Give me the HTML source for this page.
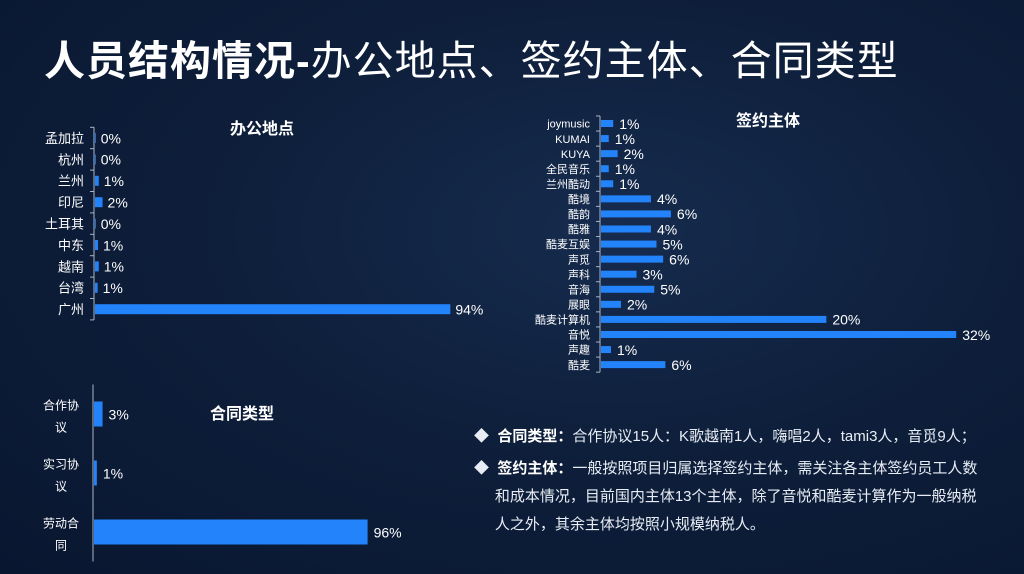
<!DOCTYPE html>
<html><head><meta charset="utf-8">
<style>
html,body{margin:0;padding:0}
body{width:1024px;height:574px;overflow:hidden;position:relative;font-family:"Liberation Sans","Noto Sans CJK SC",sans-serif;color:#fff;
background:radial-gradient(ellipse at 60% 40%,#162b4e 0%,#0e1f3b 45%,#091630 100%);}
.title{position:absolute;left:44px;top:27px;font-size:41px;font-weight:bold;letter-spacing:1px;white-space:nowrap}
.title span{font-weight:normal}
svg{position:absolute;left:0;top:0}
.desc{position:absolute;left:474px;font-size:15px;line-height:28px;color:#e8edf5;white-space:nowrap}
.desc b{color:#fff}
</style></head><body>
<div class="title">人员结构情况-<span>办公地点、签约主体、合同类型</span></div>
<svg id="chart" width="1024" height="574"></svg>
<div class="desc" style="top:423px">◆&nbsp;&nbsp;<b>合同类型：</b>合作协议15人：K歌越南1人，嗨唱2人，tami3人，音觅9人；</div>
<div class="desc" style="top:455px">◆&nbsp;&nbsp;<b>签约主体：</b>一般按照项目归属选择签约主体，需关注各主体签约员工人数<br>&nbsp;&nbsp;&nbsp;&nbsp;&nbsp;和成本情况，目前国内主体13个主体，除了音悦和酷麦计算作为一般纳税<br>&nbsp;&nbsp;&nbsp;&nbsp;&nbsp;人之外，其余主体均按照小规模纳税人。</div>
<script>
const officeCats=["孟加拉","杭州","兰州","印尼","土耳其","中东","越南","台湾","广州"];
const officeVals=[0.2,0.2,1,2,0.2,0.8,1,0.7,94];
const officeLabels=["0%","0%","1%","2%","0%","1%","1%","1%","94%"];
const entityCats=["joymusic","KUMAI","KUYA","全民音乐","兰州酷动","酷境","酷韵","酷雅","酷麦互娱","声觅","声科","音海","展眼","酷麦计算机","音悦","声趣","酷麦"];
const entityVals=[1.1,0.7,1.5,0.7,1.1,4.5,6.3,4.5,5.0,5.6,3.2,4.8,1.8,20.3,32,0.9,5.8];
const entityLabels=["1%","1%","2%","1%","1%","4%","6%","4%","5%","6%","3%","5%","2%","20%","32%","1%","6%"];
const contractCats=[["合作协","议"],["实习协","议"],["劳动合","同"]];
const contractVals=[3,1,96];
const contractLabels=["3%","1%","96%"];
const svg=document.getElementById('chart');
const NS='http://www.w3.org/2000/svg';
function mk(tag,attrs,txt){const e=document.createElementNS(NS,tag);for(const k in attrs)e.setAttribute(k,attrs[k]);if(txt!==undefined)e.textContent=txt;svg.appendChild(e);return e;}
function chart(o){
  const x=v=>o.x0+v*o.scale;
  const y=i=>o.y0+i*o.step;
  let t=mk('text',{x:o.tx,y:o.ty,fill:'#fff','font-size':16,'font-weight':'bold','text-anchor':'middle'},o.title);
  
  let ax=mk('line',{x1:o.x0,x2:o.x0,y1:y(0)-o.step/2,y2:y(o.cats.length-1)+o.step/2,stroke:'#aab4c4','stroke-width':1});
  
  o.cats.forEach((c,i)=>{
    if(o.ticks){mk('line',{x1:o.x0-4,x2:o.x0,y1:y(i)-o.step/2,y2:y(i)-o.step/2,stroke:'#aab4c4'});}
    const w=Math.max(o.vals[i]*o.scale,0);
    let r=mk('rect',{x:o.x0+1,y:y(i)-o.bh/2,width:w,height:o.bh,fill:'#2283fa'});
    
    let lb=mk('text',{x:x(o.vals[i])+o.gap,y:y(i)+o.fs*0.38,fill:'#fff','font-size':o.fs},o.labels[i]);
    
    if(Array.isArray(c)){
      c.forEach((s,k)=>{let ct=mk('text',{x:o.x0-32,y:y(i)-10+k*22+o.fs*0.38,fill:'#fff','font-size':12,'text-anchor':'middle'},s);
      });
    }else{
      let ct=mk('text',{x:o.x0-o.cgap,y:y(i)+o.cfs*0.38,fill:'#fff','font-size':o.cfs,'text-anchor':'end'},c);
      
    }
  });
  if(o.ticks)mk('line',{x1:o.x0-4,x2:o.x0,y1:y(o.cats.length-1)+o.step/2,y2:y(o.cats.length-1)+o.step/2,stroke:'#aab4c4'});
}
chart({name:'office',cats:officeCats,vals:officeVals,labels:officeLabels,x0:94,scale:3.78,y0:138,step:21.4,bh:10,fs:14,cfs:13,cgap:10,gap:6,ticks:true,title:'办公地点',tx:262,ty:134});
chart({name:'entity',cats:entityCats,vals:entityVals,labels:entityLabels,x0:600,scale:11.1,y0:123.5,step:15.07,bh:7,fs:14,cfs:11,cgap:10,gap:7,ticks:true,title:'签约主体',tx:768,ty:126});
chart({name:'contract',cats:contractCats,vals:contractVals,labels:contractLabels,x0:93,scale:2.85,y0:414,step:59,bh:25,fs:14,cfs:12,cgap:8,gap:7,ticks:false,title:'合同类型',tx:242,ty:419});
</script>
</body></html>
